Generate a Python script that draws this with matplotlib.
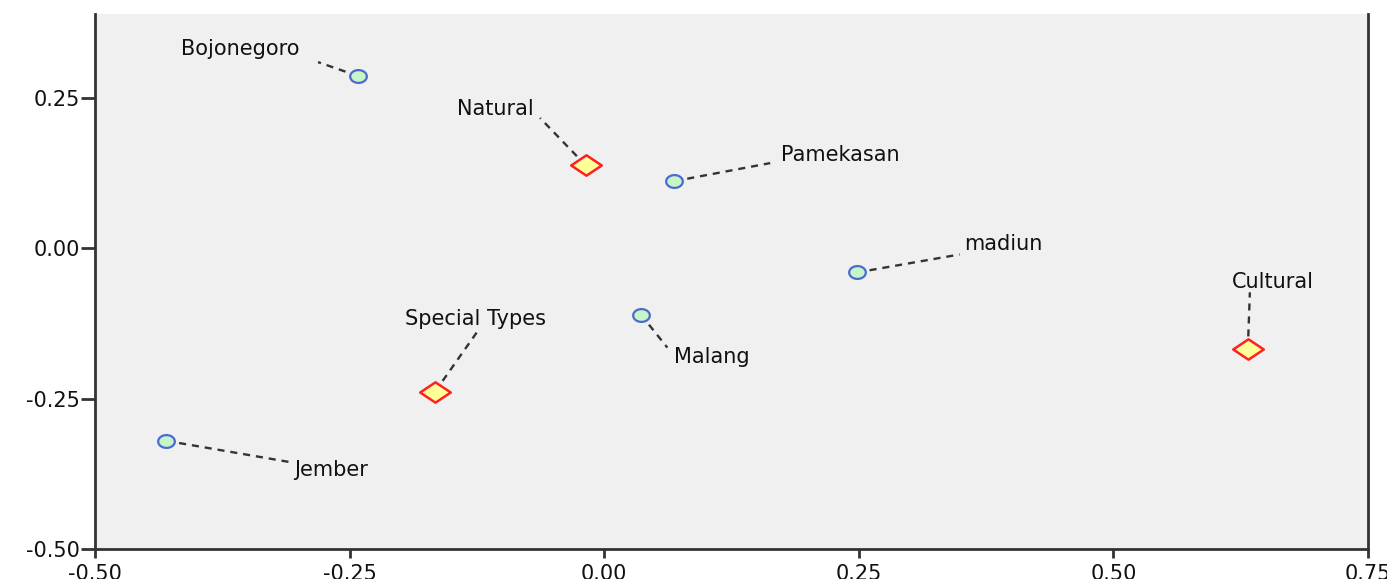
import matplotlib.pyplot as plt
from matplotlib.path import Path
import numpy as np

plt.rcParams['font.family'] = ['DejaVu Sans']

# row points (cities) and column points (types)
row_names = ['Bojonegoro', 'Pamekasan', 'madiun', 'Malang', 'Jember']
row_x = [-0.242, 0.069, 0.248, 0.036, -0.430]
row_y = [0.287, 0.112, -0.040, -0.110, -0.320]

col_names = ['Natural', 'Cultural', 'Special Types']
col_x = [-0.018, 0.632, -0.166]
col_y = [0.138, -0.168, -0.238]

# label placement (data coords) and leader line end at label side
row_lab_x = [-0.357, 0.232, 0.392, 0.106, -0.268]
row_lab_y = [0.332, 0.155, 0.007, -0.180, -0.368]
row_lead_x = [-0.281, 0.163, 0.349, 0.062, -0.310]
row_lead_y = [0.310, 0.142, -0.010, -0.165, -0.355]

col_lab_x = [-0.107, 0.657, -0.126]
col_lab_y = [0.232, -0.055, -0.118]
col_lead_x = [-0.063, 0.634, -0.124]
col_lead_y = [0.217, -0.073, -0.137]

xticks = [-0.50, -0.25, 0.00, 0.25, 0.50, 0.75]
yticks = [-0.50, -0.25, 0.00, 0.25]

fig = plt.figure(figsize=(13.87, 5.79), dpi=100)
ax = fig.add_axes([0.0685, 0.0518, 0.9178, 0.924])
ax.set_facecolor('#f0f0f0')

# stretched markers like the original export
t = np.linspace(0, 2 * np.pi, 40)
ellipse = Path(np.column_stack([1.3 * np.cos(t), np.sin(t)]), closed=True)
diamond = Path([(-1.5, 0), (0, 1), (1.5, 0), (0, -1), (-1.5, 0)], closed=True)

for i in range(len(row_names)):
    ax.plot([row_x[i], row_lead_x[i]], [row_y[i], row_lead_y[i]],
            color='#333333', ls=(0, (3, 2.5)), lw=1.7, zorder=2)
    ax.text(row_lab_x[i], row_lab_y[i], row_names[i], fontsize=15,
            ha='center', va='center', color='#111111', zorder=4)
for i in range(len(col_names)):
    ax.plot([col_x[i], col_lead_x[i]], [col_y[i], col_lead_y[i]],
            color='#333333', ls=(0, (3, 2.5)), lw=1.7, zorder=2)
    ax.text(col_lab_x[i], col_lab_y[i], col_names[i], fontsize=15,
            ha='center', va='center', color='#111111', zorder=4)

ax.plot(row_x, row_y, ls='none', marker=ellipse, ms=12,
        mfc='#c8f5c8', mec='#4a6ad0', mew=1.6, zorder=3)
ax.plot(col_x, col_y, ls='none', marker=diamond, ms=22,
        mfc='#ffff99', mec='#ff2020', mew=1.8, zorder=3)

ax.set_xlim(-0.5, 0.75)
ax.set_ylim(-0.5, 0.39)
ax.set_xticks(xticks)
ax.set_xticklabels([f'{v:.2f}' for v in xticks])
ax.set_yticks(yticks)
ax.set_yticklabels([f'{v:.2f}' for v in yticks])
ax.tick_params(labelsize=15, width=2, color='#333333', labelcolor='#111111')
ax.tick_params(axis='y', length=10, pad=1)
ax.tick_params(axis='x', length=6.5, pad=4)

ax.spines['top'].set_visible(False)
for s in ['left', 'right', 'bottom']:
    ax.spines[s].set_color('#333333')
    ax.spines[s].set_linewidth(2)

plt.savefig('out.png', dpi=100)
